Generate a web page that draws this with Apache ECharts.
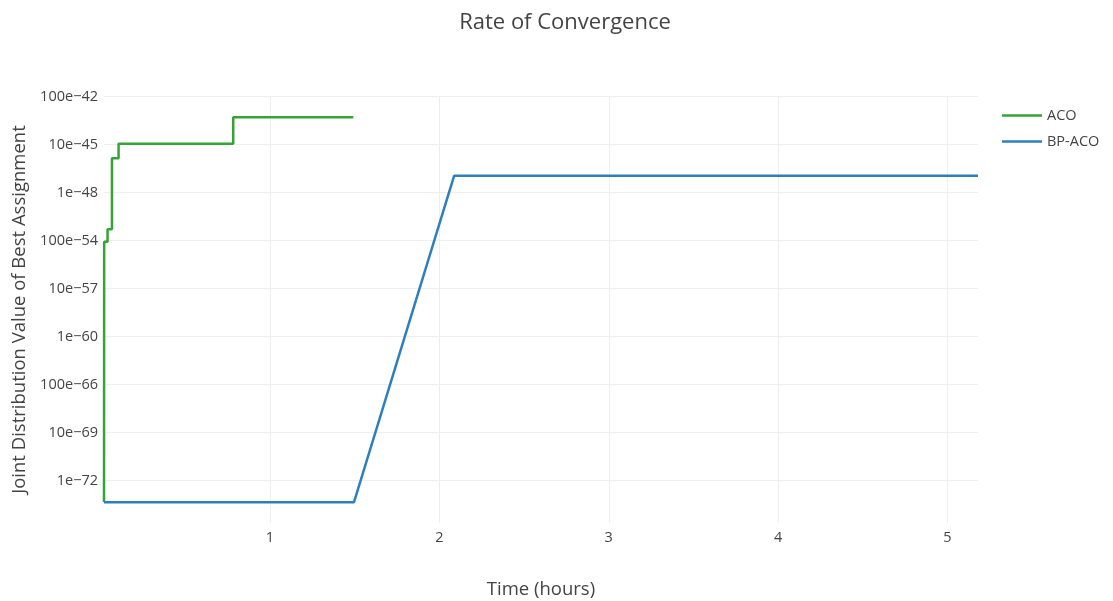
<!DOCTYPE html>
<html>
<head>
<meta charset="utf-8">
<script src="https://cdn.jsdelivr.net/npm/echarts@6/dist/echarts.min.js"></script>
<style>html,body{margin:0;padding:0;background:#fff}#c{width:1113px;height:601px}</style>
</head>
<body>
<div id="c"></div>
<script>
// ACO: time (hours) and joint distribution value of best assignment
const acoTime = [0.02, 0.021, 0.041, 0.067, 0.106, 0.783, 1.492];
const acoValue = [1.55e-74, 7.9e-53, 8.7e-52, 7.4e-46, 1.17e-44, 1.86e-42, 1.86e-42];
// BP-ACO
const bpTime = [0.02, 1.496, 2.087, 5.18];
const bpValue = [1.55e-74, 1.55e-74, 2.5e-47, 2.5e-47];
// y ticks (powers of ten) and their labels
const yTickExps = [-72, -68, -64, -60, -56, -52, -48, -44, -40];
const yTickLabels = ['1e\u221272', '10e\u221269', '100e\u221266', '1e\u221260', '10e\u221257', '100e\u221254', '1e\u221248', '10e\u221245', '100e\u221242'];
const xTicks = [1, 2, 3, 4, 5];

const toLog = (t, v) => t.map((x, i) => [x, Math.log10(v[i])]);
const font = '"Open Sans", "Noto Sans", sans-serif';
const chart = echarts.init(document.getElementById('c'), null, {renderer: 'canvas'});
chart.setOption({
  animation: false,
  backgroundColor: '#fff',
  title: {
    text: 'Rate of Convergence', left: 560, top: 7, textAlign: 'center',
    textStyle: {fontFamily: font, fontSize: 22, fontWeight: 'normal', color: '#444'}
  },
  legend: {
    left: 1002, top: 108, padding: 0, orient: 'vertical', itemWidth: 40, itemHeight: 2.5, itemGap: 11, icon: 'rect',
    textStyle: {fontFamily: font, fontSize: 14.5, color: '#444', lineHeight: 14},
    data: ['ACO', 'BP-ACO']
  },
  grid: {left: 104, right: 135, top: 96, bottom: 78, containLabel: false, outerBoundsMode: 'none'},
  xAxis: {
    type: 'value', min: 0.02, max: 5.18,
    name: 'Time (hours)', nameLocation: 'middle', nameGap: 57,
    nameTextStyle: {fontFamily: font, fontSize: 18.5, color: '#444'},
    axisLine: {show: false}, axisTick: {show: false, customValues: xTicks},
    axisLabel: {customValues: xTicks, fontFamily: font, fontSize: 14.5, color: '#444', margin: 7},
    splitLine: {show: true, lineStyle: {color: '#eee', width: 1}}
  },
  yAxis: {
    type: 'value', min: -75.55, max: -39.95,
    name: 'Joint Distribution Value of Best Assignment', nameLocation: 'middle', nameGap: 75,
    nameTextStyle: {fontFamily: font, fontSize: 18.5, color: '#444'},
    axisLine: {show: false}, axisTick: {show: false, customValues: yTickExps},
    axisLabel: {
      customValues: yTickExps, fontFamily: font, fontSize: 14.5, color: '#444', margin: 6,
      formatter: v => { const i = yTickExps.findIndex(e => Math.abs(e - v) < 1e-6); return i >= 0 ? yTickLabels[i] : ''; }
    },
    splitLine: {show: true, lineStyle: {color: '#eee', width: 1}}
  },
  series: [
    {name: 'ACO', type: 'line', step: 'end', data: toLog(acoTime, acoValue), symbol: 'none',
     lineStyle: {color: '#36a336', width: 2.5}, itemStyle: {color: '#36a336'}, z: 3},
    {name: 'BP-ACO', type: 'line', data: toLog(bpTime, bpValue), symbol: 'none',
     lineStyle: {color: '#2e7fbe', width: 2.5}, itemStyle: {color: '#2e7fbe'}, z: 4}
  ]
});
</script>
</body>
</html>
